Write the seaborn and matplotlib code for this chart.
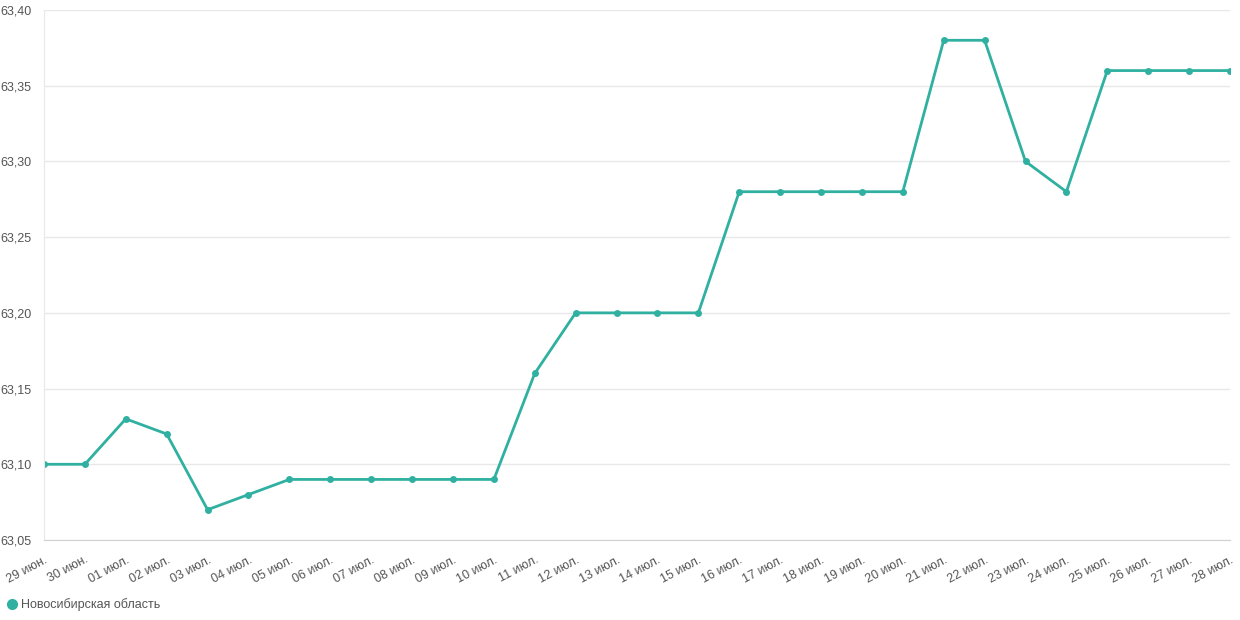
import matplotlib
matplotlib.use("Agg")
import matplotlib.pyplot as plt
import pandas as pd
import seaborn as sns
from matplotlib.lines import Line2D
from matplotlib.ticker import FuncFormatter, MultipleLocator

dates = [
    "29 июн.", "30 июн.", "01 июл.", "02 июл.", "03 июл.", "04 июл.", "05 июл.",
    "06 июл.", "07 июл.", "08 июл.", "09 июл.", "10 июл.", "11 июл.", "12 июл.",
    "13 июл.", "14 июл.", "15 июл.", "16 июл.", "17 июл.", "18 июл.", "19 июл.",
    "20 июл.", "21 июл.", "22 июл.", "23 июл.", "24 июл.", "25 июл.", "26 июл.",
    "27 июл.", "28 июл.",
]
prices = [
    63.10, 63.10, 63.13, 63.12, 63.07, 63.08, 63.09,
    63.09, 63.09, 63.09, 63.09, 63.09, 63.16, 63.20,
    63.20, 63.20, 63.20, 63.28, 63.28, 63.28, 63.28,
    63.28, 63.38, 63.38, 63.30, 63.28, 63.36, 63.36,
    63.36, 63.36,
]
series_name = "Новосибирская область"

color = "#2fb0a0"
text_color = "#555555"
grid_color = "#e8e8e8"

sns.set_style("white")
plt.rcParams["font.family"] = ["Liberation Sans", "DejaVu Sans"]

df = pd.DataFrame({"x": range(len(dates)), "price": prices})

fig = plt.figure(figsize=(12.4, 6.2), dpi=100)
ax = fig.add_axes([44 / 1240, 1 - 540 / 620, (1230 - 44) / 1240, 530 / 620])

sns.lineplot(data=df, x="x", y="price", ax=ax, color=color, linewidth=2,
             marker="o", markersize=5, markeredgewidth=0)

ax.set_xlim(0, len(dates) - 1)
ax.set_ylim(63.05, 63.40)
ax.yaxis.set_major_locator(MultipleLocator(0.05))
ax.yaxis.set_major_formatter(FuncFormatter(lambda v, _: f"{v:.2f}".replace(".", ",")))
ax.set_xticks(range(len(dates)))
ax.set_xticklabels(dates, rotation=28, ha="right", rotation_mode="anchor")

ax.grid(axis="y", color=grid_color, linewidth=1)
ax.set_axisbelow(True)
for side in ["top", "right"]:
    ax.spines[side].set_visible(False)
ax.spines["left"].set_color(grid_color)
ax.spines["bottom"].set_color("#d0d0d0")
ax.tick_params(axis="y", length=8, color=grid_color, labelsize=9, labelcolor=text_color, pad=1)
ax.tick_params(axis="x", length=0, labelsize=9, labelcolor=text_color, pad=10)
ax.set_xlabel("")
ax.set_ylabel("")

handle = Line2D([], [], marker="o", linestyle="", color=color, markersize=7)
fig.legend([handle], [series_name], loc="center left", bbox_to_anchor=(0.002, 1 - 605 / 620),
           frameon=False, handlelength=0.8, handletextpad=0.3, fontsize=9,
           labelcolor=text_color, borderpad=0, borderaxespad=0.4)

fig.savefig("out.png", dpi=100)
